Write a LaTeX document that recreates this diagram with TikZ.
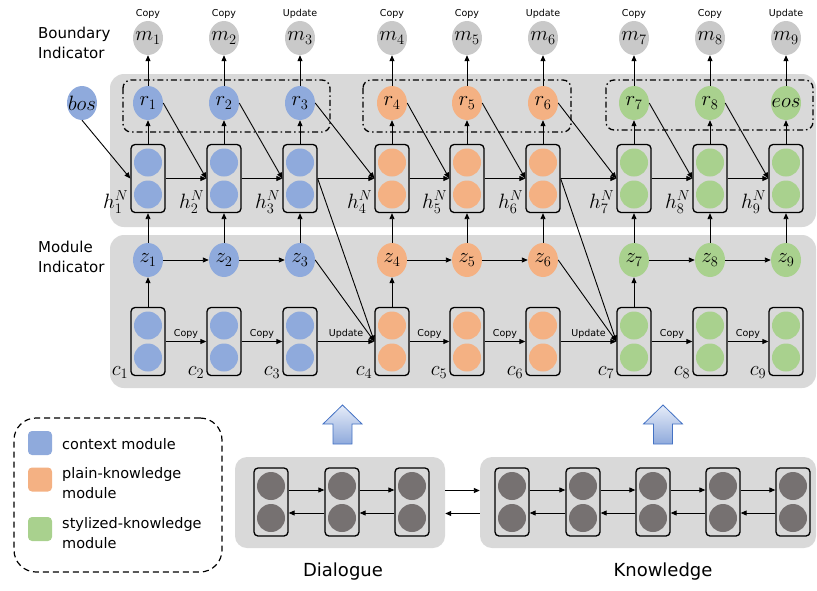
\documentclass[tikz,border=0pt]{standalone}
\usepackage{fontspec}
\setmainfont{DejaVu Sans}
\usetikzlibrary{arrows.meta, positioning, shapes.geometric, calc}
\definecolor{ctxblue}{HTML}{8FAADC}
\definecolor{plainorange}{HTML}{F4B183}
\definecolor{stylegreen}{HTML}{A9D18E}
\definecolor{markgray}{HTML}{C9C9C9}
\definecolor{panelgray}{HTML}{D9D9D9}
\definecolor{cellgray}{HTML}{767171}
\definecolor{liftedge}{HTML}{4472C4}
\definecolor{lifttop}{HTML}{E6ECF8}
\definecolor{liftbottom}{HTML}{8FAADC}
\newcommand{\slot}[1]{\makebox[0pt]{$#1$}}
\tikzset{
  panel/.style = {
    fill=panelgray,
    rounded corners=14pt,
    inner sep=0,
  },
  cell/.style = {
    draw,
    line width=1.3pt,
    rounded corners=4pt,
    minimum width=34pt,
    minimum height=68pt,
    inner sep=0,
  },
  unit/.style = {
    ellipse,
    minimum width=30pt,
    minimum height=34pt,
    inner sep=0,
    font=\fontsize{22}{26}\selectfont,
  },
  flow/.style = {
    -{Triangle[length=6pt, width=5pt]},
    line width=0.9pt,
  },
  oplbl/.style = {
    font=\fontsize{9.5}{11}\selectfont,
    inner sep=1pt,
  },
  group/.style = {
    line width=1.3pt,
    rounded corners=8pt,
    dash pattern=on 6pt off 3pt on 1.5pt off 3pt,
  },
  key/.style = {
    minimum width=24pt,
    minimum height=24pt,
    rounded corners=4pt,
    inner sep=0,
  },
  keytext/.style = {
    anchor=west,
    align=left,
    inner sep=0,
    font=\fontsize{14.5}{20}\selectfont,
  },
  sidetext/.style = {
    anchor=west,
    align=left,
    inner sep=0,
    font=\fontsize{15}{19.5}\selectfont,
  },
  idx/.style = {
    anchor=base east,
    inner sep=0,
    font=\fontsize{21}{25}\selectfont,
  },
}

\begin{document}
\begin{tikzpicture}[x=1pt, y=-1pt]
\useasboundingbox (0,0) rectangle (817,590);

\node(Upper)[panel, minimum width=706pt, minimum height=153pt] at (463,150.5) {};
\node(Lower)[panel, minimum width=706pt, minimum height=153pt] at (463,311.5) {};
\node(DlgPanel)[panel, rounded corners=12pt, minimum width=210pt, minimum height=91pt] at (340,502.5) {};
\node(KnPanel)[panel, rounded corners=12pt, minimum width=336pt, minimum height=91pt] at (648,502.5) {};

\draw[group] (123,80) rectangle (330,132);
\draw[group] (363,80) rectangle (571,132);
\draw[group] (606,80) rectangle (813,130);

\node(Boundary)[sidetext] at (38,43) {Boundary\\Indicator};
\node(Module)[sidetext] at (38,257) {Module\\Indicator};

\node(bos)[unit, fill=ctxblue] at (82,103) {\slot{bos}};

\foreach \x/\col/\rl/\op [count=\i] in {
  148/ctxblue/r_1/Copy, 224/ctxblue/r_2/Copy, 300/ctxblue/r_3/Update,
  392/plainorange/r_4/Copy, 467/plainorange/r_5/Copy, 543/plainorange/r_6/Update,
  634/stylegreen/r_7/Copy, 710/stylegreen/r_8/Copy, 786/stylegreen/eos/Update} {
  \node(m\i)[unit, fill=markgray] at (\x,38) {\slot{m_\i}};
  \node(act\i)[oplbl, above=1pt of m\i] {\op};
  \node(r\i)[unit, fill=\col] at (\x,103) {\slot{\rl}};
  \node(h\i)[cell] at (\x,178.5) {};
  \fill[\col] ([yshift=16pt]h\i.center) circle[radius=14pt];
  \fill[\col] ([yshift=-16pt]h\i.center) circle[radius=14pt];
  \node(hl\i)[idx] at ([xshift=-2pt, yshift=5pt]h\i.south west) {$h_\i^N$};
  \node(z\i)[unit, fill=\col] at (\x,260) {\slot{z_\i}};
  \node(c\i)[cell] at (\x,341.5) {};
  \fill[\col] ([yshift=16pt]c\i.center) circle[radius=14pt];
  \fill[\col] ([yshift=-16pt]c\i.center) circle[radius=14pt];
  \node(cl\i)[idx] at ([xshift=-2pt, yshift=1pt]c\i.south west) {$c_\i$};
  \draw[flow] (h\i) -- (r\i);
  \draw[flow] (r\i) -- (m\i);
  \draw[flow] (z\i) -- (h\i);
}

\draw[flow] (bos.south) -- (h1.west);
\foreach \i/\op [count=\j from 2] in {1/Copy, 2/Copy, 3/Update, 4/Copy, 5/Copy, 6/Update, 7/Copy, 8/Copy} {
  \draw[flow] (h\i) -- (h\j);
  \draw[flow] (r\i.east) -- (h\j.west);
  \draw[flow] (c\i) -- node(step\i)[oplbl, above=2pt] {\op} (c\j);
}
\foreach \i/\j in {1/2, 2/3, 4/5, 5/6, 7/8, 8/9}
  \draw[flow] (z\i) -- (z\j);
\foreach \i in {1, 4, 7}
  \draw[flow] (c\i) -- (z\i);
\foreach \i/\j in {3/4, 6/7} {
  \draw[flow] (z\i.east) -- (c\j.west);
  \draw[flow] (h\i.east) -- (c\j.west);
}

\node(Legend)[draw, line width=1.2pt, dash pattern=on 6pt off 4pt, rounded corners=22pt,
  minimum width=208pt, minimum height=154pt] at (118,495) {};
\node(KeyCtx)[key, fill=ctxblue] at (40,443) {};
\node(KeyPlain)[key, fill=plainorange] at (40,479.5) {};
\node(KeyStyle)[key, fill=stylegreen] at (40,529) {};
\node(TxtCtx)[keytext] at (62,444) {context module};
\node(TxtPlain)[keytext] at (62,483) {plain-knowledge\\module};
\node(TxtStyle)[keytext] at (62,533) {stylized-knowledge\\module};

\foreach \x [count=\i] in {271, 342, 412} {
  \node(d\i)[cell] at (\x,502) {};
  \fill[cellgray] ([yshift=16pt]d\i.center) circle[radius=14pt];
  \fill[cellgray] ([yshift=-16pt]d\i.center) circle[radius=14pt];
}
\foreach \x [count=\i] in {512, 583, 653, 723, 793} {
  \node(k\i)[cell] at (\x,502) {};
  \fill[cellgray] ([yshift=16pt]k\i.center) circle[radius=14pt];
  \fill[cellgray] ([yshift=-16pt]k\i.center) circle[radius=14pt];
}
\foreach \i [count=\j from 2] in {1, 2} {
  \draw[flow] ([yshift=12pt]d\i.east) -- ([yshift=12pt]d\j.west);
  \draw[flow] ([yshift=-11pt]d\j.west) -- ([yshift=-11pt]d\i.east);
}
\foreach \i [count=\j from 2] in {1, ..., 4} {
  \draw[flow] ([yshift=12pt]k\i.east) -- ([yshift=12pt]k\j.west);
  \draw[flow] ([yshift=-11pt]k\j.west) -- ([yshift=-11pt]k\i.east);
}
\draw[flow] ([yshift=12pt]DlgPanel.east) -- ([yshift=12pt]KnPanel.west);
\draw[flow] ([yshift=-11pt]KnPanel.west) -- ([yshift=-11pt]DlgPanel.east);

\node(Dialogue)[font=\fontsize{18}{22}\selectfont] at (343,572) {Dialogue};
\node(Knowledge)[font=\fontsize{18}{22}\selectfont] at (663,572) {Knowledge};

\path[draw=liftedge, top color=lifttop, bottom color=liftbottom, line width=0.8pt]
  (333,444) -- (333,424) -- (323,424) -- (342.5,405) -- (362,424) -- (352,424) -- (352,444) -- cycle;
\path[draw=liftedge, top color=lifttop, bottom color=liftbottom, line width=0.8pt]
  (653.5,444) -- (653.5,424) -- (643.5,424) -- (663,405) -- (682.5,424) -- (672.5,424) -- (672.5,444) -- cycle;

\end{tikzpicture}
\end{document}
